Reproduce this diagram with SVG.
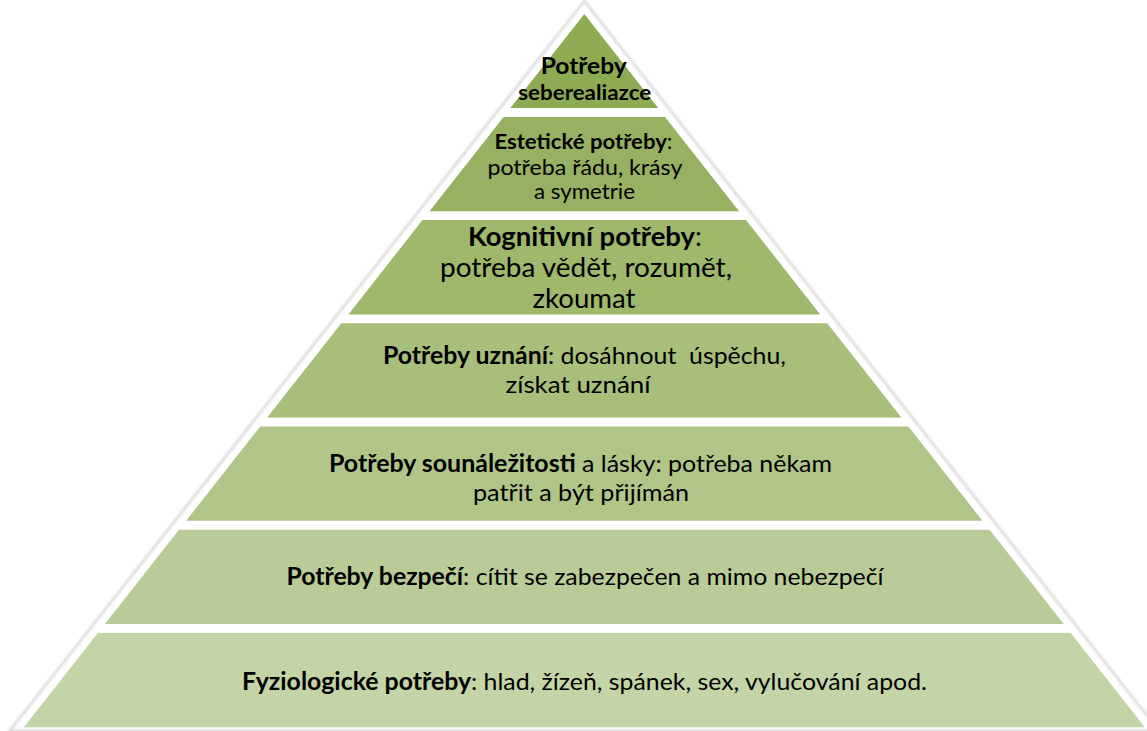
<svg xmlns="http://www.w3.org/2000/svg" width="1147" height="731" viewBox="0 0 1147 731">
  <defs>
    <filter id="soft" x="-5%" y="-5%" width="110%" height="110%">
      <feGaussianBlur stdDeviation="0.9"/>
    </filter>
  </defs>
  <style>
    text { font-family: Lato, "Liberation Sans", Arial, sans-serif; fill: #000; text-anchor: middle; }
    .b { font-weight: bold; }
    .layer { stroke: none; }
  </style>
  <rect width="1147" height="731" fill="#fff"/>
  <polygon points="584.3,1 1159,731 9.5,731" fill="#fff" stroke="#d8d8d8" stroke-width="2.5" filter="url(#soft)"/>

  <g id="layer1">
    <polygon class="layer" fill="#8dab53" points="584.3,14 658.2,108 510.4,108"/>
    <text class="b" font-size="22.5" x="583.7" y="74" textLength="86" lengthAdjust="spacingAndGlyphs">Potřeby</text>
    <text class="b" font-size="21.5" x="584.7" y="100" textLength="133" lengthAdjust="spacingAndGlyphs">seberealiazce</text>
  </g>
  <g id="layer2">
    <polygon class="layer" fill="#96b161" points="503.6,116.9 665.0,116.9 739.1,211.2 429.5,211.2"/>
    <text font-size="21.5" x="583.4" y="149" textLength="178" lengthAdjust="spacingAndGlyphs"><tspan class="b">Estetické potřeby</tspan>:</text>
    <text font-size="21.5" x="584.9" y="175" textLength="195" lengthAdjust="spacingAndGlyphs">potřeba řádu, krásy</text>
    <text font-size="21.5" x="584.5" y="199" textLength="101" lengthAdjust="spacingAndGlyphs">a symetrie</text>
  </g>
  <g id="layer3">
    <polygon class="layer" fill="#9eb86c" points="422.5,220.1 746.1,220.1 820.2,314.4 348.4,314.4"/>
    <text font-size="26.5" x="584.9" y="246" textLength="234" lengthAdjust="spacingAndGlyphs"><tspan class="b">Kognitivní potřeby</tspan>:</text>
    <text font-size="26.5" x="586" y="277" textLength="292" lengthAdjust="spacingAndGlyphs">potřeba vědět, rozumět,</text>
    <text font-size="26.5" x="584" y="308" textLength="103" lengthAdjust="spacingAndGlyphs">zkoumat</text>
  </g>
  <g id="layer4">
    <polygon class="layer" fill="#a7bf7a" points="341.3,323.3 827.3,323.3 901.4,417.6 267.2,417.6"/>
    <text font-size="24" x="584.5" y="364" textLength="403" lengthAdjust="spacingAndGlyphs" xml:space="preserve"><tspan class="b">Potřeby uznání</tspan>: dosáhnout  úspěchu,</text>
    <text font-size="24" x="578" y="393" textLength="145" lengthAdjust="spacingAndGlyphs">získat uznání</text>
  </g>
  <g id="layer5">
    <polygon class="layer" fill="#b0c688" points="260.2,426.5 908.4,426.5 982.5,520.8 186.1,520.8"/>
    <text font-size="24" x="580.5" y="471.5" textLength="503" lengthAdjust="spacingAndGlyphs"><tspan class="b">Potřeby sounáležitosti</tspan> a lásky: potřeba někam</text>
    <text font-size="24" x="581" y="501" textLength="216" lengthAdjust="spacingAndGlyphs">patřit a být přijímán</text>
  </g>
  <g id="layer6">
    <polygon class="layer" fill="#b9cc98" points="179.0,529.7 989.6,529.7 1063.7,624.0 104.9,624.0"/>
    <text font-size="24" x="585" y="585" textLength="597" lengthAdjust="spacingAndGlyphs"><tspan class="b">Potřeby bezpečí</tspan>: cítit se zabezpečen a mimo nebezpečí</text>
  </g>
  <g id="layer7">
    <polygon class="layer" fill="#c3d4a6" points="97.9,632.9 1070.7,632.9 1144.8,727.2 23.8,727.2"/>
    <text font-size="24" x="584.5" y="690" textLength="685" lengthAdjust="spacingAndGlyphs"><tspan class="b">Fyziologické potřeby</tspan>: hlad, žízeň, spánek, sex, vylučování apod.</text>
  </g>
  <g id="connectors"/>
</svg>
